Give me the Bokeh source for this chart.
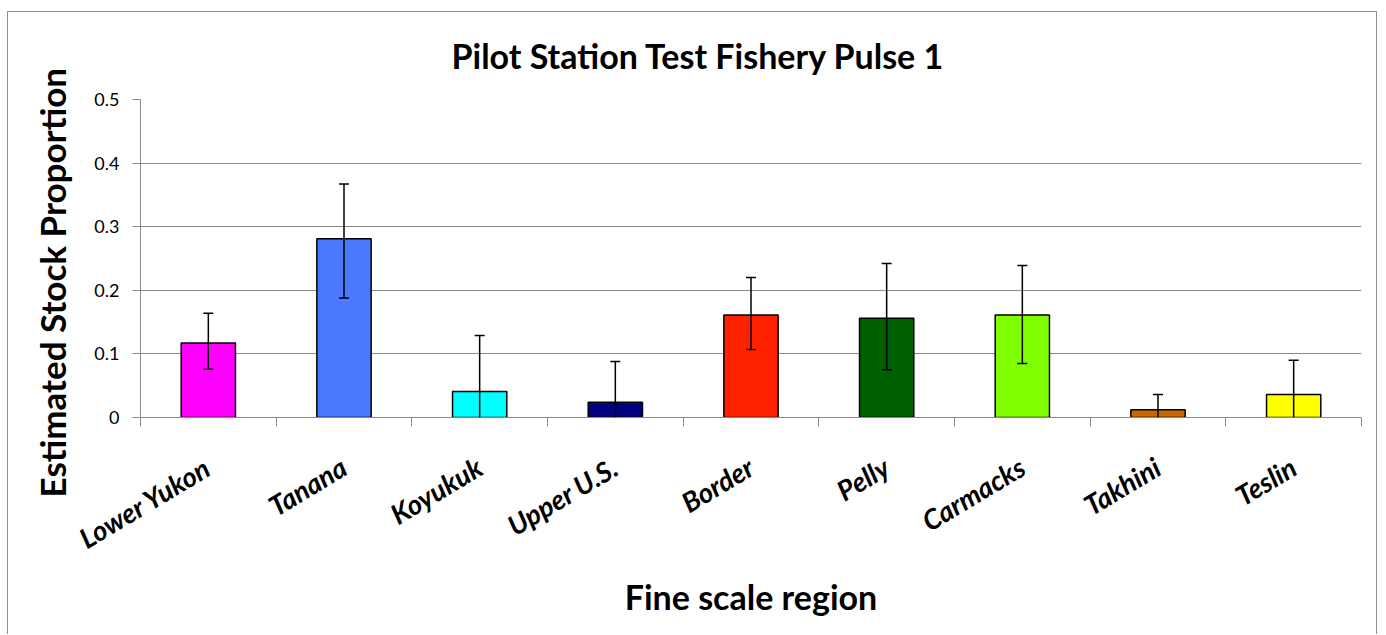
from bokeh.plotting import figure
from bokeh.models import (ColumnDataSource, Range1d, FactorRange, LinearAxis, CategoricalAxis,
                          FixedTicker, Whisker, TeeHead, Title)
from bokeh.embed import file_html
from bokeh.resources import INLINE

# ---- data ----
categories = ["Lower Yukon", "Tanana", "Koyukuk", "Upper U.S.", "Border",
              "Pelly", "Carmacks", "Takhini", "Teslin"]
proportion = [0.117, 0.281, 0.041, 0.024, 0.161, 0.156, 0.161, 0.012, 0.036]
ci_upper = [0.164, 0.367, 0.129, 0.088, 0.220, 0.242, 0.239, 0.036, 0.090]
ci_lower = [0.076, 0.188, 0.0, 0.0, 0.107, 0.075, 0.085, 0.0, 0.0]
bar_colors = ["#FF00FF", "#4A78FF", "#00FFFF", "#000080", "#FF2200",
              "#006000", "#80FF00", "#CC6600", "#FFFF00"]
y_ticks = [0, 0.1, 0.2, 0.3, 0.4, 0.5]

title_text = "Pilot Station Test Fishery Pulse 1"
y_label = "Estimated Stock Proportion"
x_label = "Fine scale region"

FONT = "Lato"
GRAY = "#8a8a8a"

src = ColumnDataSource(dict(cat=categories, val=proportion, hi=ci_upper,
                            lo=ci_lower, color=bar_colors))
caps = [(c, l) for c, l in zip(categories, ci_lower) if l > 0]
cap_src = ColumnDataSource(dict(cat=[c for c, _ in caps], lo=[l for _, l in caps]))

p = figure(width=1370, height=623,
           x_range=FactorRange(*categories), y_range=Range1d(0, 0.5),
           output_backend="svg", toolbar_location=None,
           x_axis_location=None, y_axis_location="left",
           min_border_left=132, min_border_right=17,
           min_border_top=87, min_border_bottom=218)
p.outline_line_color = None
p.background_fill_color = "white"
p.border_fill_color = "white"
p.styles = {"margin-left": "7px", "margin-top": "11px",
            "border-top": "1px solid #8f8f8f",
            "border-left": "1px solid #8f8f8f",
            "border-right": "1px solid #8f8f8f"}

# title
p.title.text = title_text
p.title.text_font = FONT
p.title.text_font_size = "34px"
p.title.text_font_style = "bold"
p.title.text_color = "black"
p.title.align = "left"
p.title.vertical_align = "top"
p.title.offset = 311
p.title.standoff = 44

# y axis
yax = p.yaxis[0]
yax.ticker = FixedTicker(ticks=y_ticks)
yax.major_label_overrides = {0: "0"}
yax.axis_line_color = GRAY
yax.major_tick_line_color = GRAY
yax.major_tick_out = 8
yax.major_tick_in = 0
yax.minor_tick_line_color = None
yax.major_label_standoff = 13
yax.major_label_text_font = FONT
yax.major_label_text_font_size = "18px"
yax.major_label_text_color = "black"

p.add_layout(Title(text=y_label, align="left", offset=-80, text_font=FONT,
                   text_font_size="35px", text_font_style="bold",
                   text_color="black", standoff=37), "left")

# grid
p.xgrid.visible = False
p.ygrid.ticker = FixedTicker(ticks=y_ticks)
p.ygrid.grid_line_color = GRAY
p.ygrid.grid_line_width = 1

# x axes: ticks at category boundaries + category labels
edge_axis = LinearAxis(ticker=FixedTicker(ticks=list(range(len(categories) + 1))),
                       axis_line_color=GRAY, major_tick_line_color=GRAY,
                       major_tick_out=9, major_tick_in=0,
                       minor_tick_line_color=None,
                       major_label_text_color=None,
                       major_label_text_font_size="1px", major_label_standoff=0)
p.add_layout(edge_axis, "below")

cat_axis = CategoricalAxis(axis_line_color=None, major_tick_line_color=None,
                           minor_tick_line_color=None, major_tick_out=0, major_tick_in=0,
                           major_label_orientation=0.54,
                           major_label_standoff=38,
                           major_label_text_font=FONT,
                           major_label_text_font_size="27.5px",
                           major_label_text_font_style="bold italic",
                           major_label_text_color="black",
                           axis_label=x_label,
                           axis_label_text_font=FONT,
                           axis_label_text_font_size="34px",
                           axis_label_text_font_style="bold",
                           axis_label_text_color="black",
                           axis_label_standoff=4)
p.add_layout(cat_axis, "below")

# bars
p.vbar(x="cat", top="val", width=0.4, fill_color="color", line_color="black",
       line_width=1.5, source=src)

# error bars
p.add_layout(Whisker(base="cat", upper="hi", lower="lo", source=src,
                     line_color="black", line_width=1.5, level="overlay",
                     upper_head=TeeHead(size=10, line_color="black", line_width=1.5),
                     lower_head=None))
p.scatter(x="cat", y="lo", marker="dash", size=10, line_color="black",
          line_width=1.5, source=cap_src)

open("out.html", "w").write(file_html(p, INLINE))
